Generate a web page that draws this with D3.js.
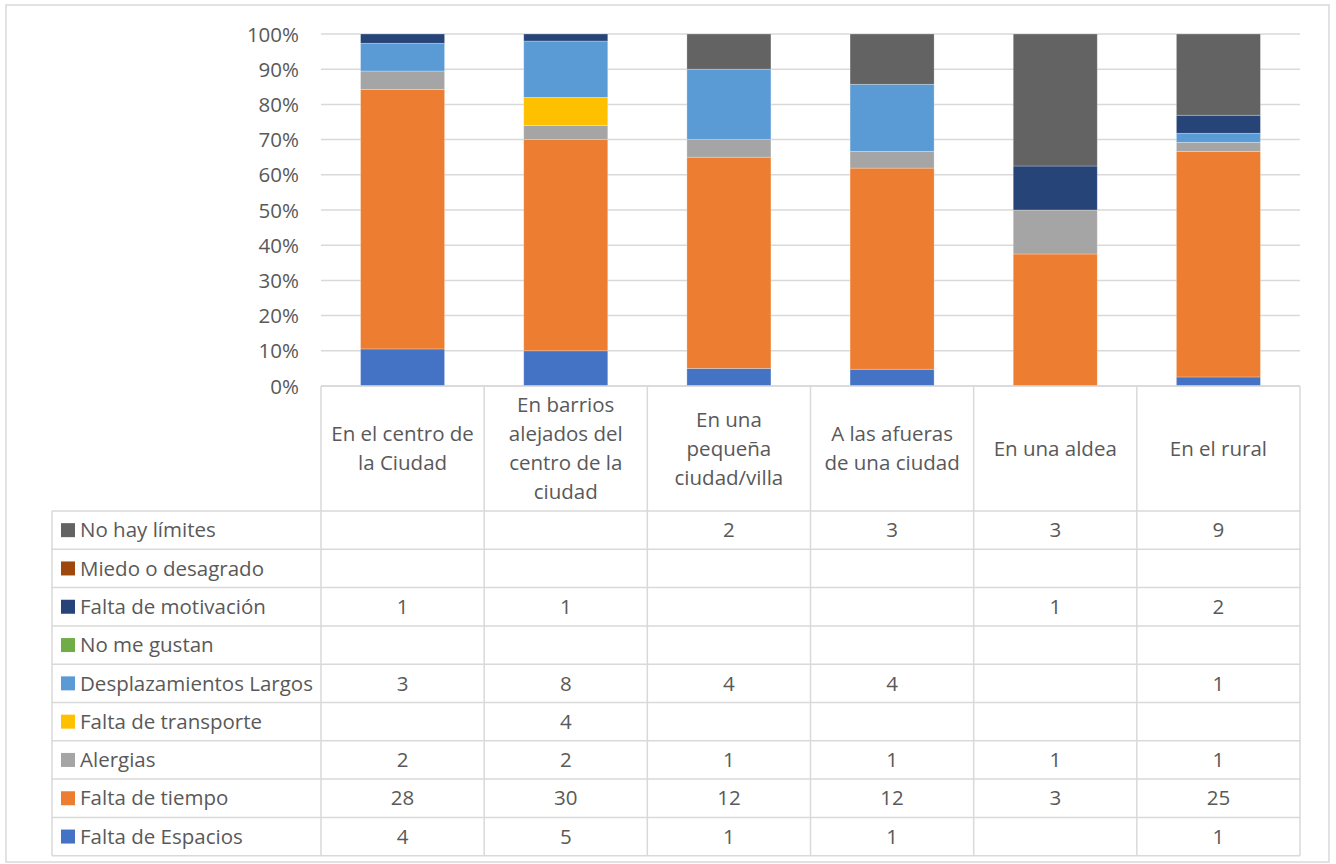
<!DOCTYPE html>
<html><head><meta charset="utf-8">
<script src="https://cdn.jsdelivr.net/npm/d3@7"></script>
<style>body{margin:0;background:#fff}svg text{font-family:"Open Sans",sans-serif;fill:#595959}</style>
</head><body><svg id="c" width="1336" height="864"></svg>
<script>
const categories = ["En el centro de la Ciudad","En barrios alejados del centro de la ciudad","En una pequeña ciudad/villa","A las afueras de una ciudad","En una aldea","En el rural"];
const categoryLines = [["En el centro de","la Ciudad"],["En barrios","alejados del","centro de la","ciudad"],["En una","pequeña","ciudad/villa"],["A las afueras","de una ciudad"],["En una aldea"],["En el rural"]];
const seriesNames = ["Falta de Espacios","Falta de tiempo","Alergias","Falta de transporte","Desplazamientos Largos","No me gustan","Falta de motivación","Miedo o desagrado","No hay límites"];
const faltaEspacios = [4,5,1,1,null,1];
const faltaTiempo = [28,30,12,12,3,25];
const alergias = [2,2,1,1,1,1];
const faltaTransporte = [null,4,null,null,null,null];
const desplazamientos = [3,8,4,4,null,1];
const noMeGustan = [null,null,null,null,null,null];
const faltaMotivacion = [1,1,null,null,1,2];
const miedo = [null,null,null,null,null,null];
const noHayLimites = [null,null,2,3,3,9];
const seriesValues = [faltaEspacios,faltaTiempo,alergias,faltaTransporte,desplazamientos,noMeGustan,faltaMotivacion,miedo,noHayLimites];
const colors = ["#4472C4","#ED7D31","#A5A5A5","#FFC000","#5B9BD5","#70AD47","#264478","#9E480E","#636363"];
const yTicks = [0,0.1,0.2,0.3,0.4,0.5,0.6,0.7,0.8,0.9,1];

const FS = 20.5;
const svg = d3.select("#c");
svg.append("rect").attr("x",6).attr("y",5).attr("width",1323).attr("height",857).attr("fill","#fff").attr("stroke","#d9d9d9").attr("stroke-width",1.5);

const L=321, R=1300, T=34, B=386;
const x = d3.scaleBand().domain(categories).range([L,R]).paddingInner(0.485).paddingOuter(0.2425);
const xc = d3.scaleBand().domain(categories).range([L,R]);
const y = d3.scaleLinear().domain([0,1]).range([B,T]);

svg.append("g").selectAll("line").data(yTicks).join("line")
  .attr("x1",L).attr("x2",R).attr("y1",d=>y(d)).attr("y2",d=>y(d))
  .attr("stroke","#d9d9d9").attr("stroke-width",1.5);

const yAxis = d3.axisLeft(y).tickValues(yTicks).tickFormat(d3.format(".0%")).tickSize(0).tickPadding(0);
const ga = svg.append("g").attr("transform",`translate(${L-22},0)`).call(yAxis);
ga.select(".domain").remove();
ga.selectAll("text").attr("font-size",FS).style("font-family","Open Sans").attr("fill","#595959").attr("dy","0.35em");

const table = categories.map((c,i)=>{const o={cat:c}; seriesNames.forEach((s,j)=>o[s]=seriesValues[j][i]||0); return o;});
const stack = d3.stack().keys(seriesNames).offset(d3.stackOffsetExpand);
const layers = stack(table);
svg.append("g").selectAll("g").data(layers).join("g").attr("fill",(d,i)=>colors[i])
  .selectAll("rect").data(d=>d.filter(p=>p[1]-p[0]>0)).join("rect")
  .attr("x",d=>x(d.data.cat)).attr("width",x.bandwidth())
  .attr("y",d=>y(d[1])).attr("height",d=>y(d[0])-y(d[1]))
  .attr("stroke","rgba(255,255,255,0.35)").attr("stroke-width",0.75);

const rowTop = 511, rowH = 38.3, legL = 52;
const rows = seriesNames.slice().reverse();
const lineC = "#d9d9d9";
const tg = svg.append("g");
const vxs = [L].concat(categories.map(c=>xc(c)+xc.bandwidth()));
tg.selectAll("line.v").data(vxs).join("line").attr("class","v")
  .attr("x1",d=>d).attr("x2",d=>d).attr("y1",B).attr("y2",rowTop+rowH*rows.length)
  .attr("stroke",lineC).attr("stroke-width",1.5);
tg.append("line").attr("x1",legL).attr("x2",legL).attr("y1",rowTop).attr("y2",rowTop+rowH*rows.length).attr("stroke",lineC).attr("stroke-width",1.5);
const hys = d3.range(rows.length+1).map(i=>rowTop+i*rowH);
tg.selectAll("line.h").data(hys).join("line").attr("class","h")
  .attr("x1",legL).attr("x2",R).attr("y1",d=>d).attr("y2",d=>d)
  .attr("stroke",lineC).attr("stroke-width",1.5);
tg.append("line").attr("x1",L).attr("x2",R).attr("y1",B).attr("y2",B).attr("stroke",lineC).attr("stroke-width",1.5);

categoryLines.forEach((lines,i)=>{
  const cx = xc(categories[i])+xc.bandwidth()/2;
  const lh = 29, cy = (B+rowTop)/2;
  const t = tg.append("text").attr("text-anchor","middle").attr("font-size",FS);
  lines.forEach((ln,k)=>{
    t.append("tspan").attr("x",cx).attr("y",cy+(k-(lines.length-1)/2)*lh).attr("dy","0.35em").text(ln);
  });
});

rows.forEach((s,r)=>{
  const j = seriesNames.indexOf(s);
  const cy = rowTop + r*rowH + rowH/2;
  tg.append("rect").attr("x",61).attr("y",cy-7).attr("width",14).attr("height",14).attr("fill",colors[j]);
  tg.append("text").attr("x",80).attr("y",cy).attr("dy","0.35em").attr("font-size",FS).text(s);
  categories.forEach((c,i)=>{
    const v = seriesValues[j][i];
    if(v!=null) tg.append("text").attr("x",xc(c)+xc.bandwidth()/2).attr("y",cy).attr("dy","0.35em")
      .attr("text-anchor","middle").attr("font-size",FS).text(v);
  });
});
</script></body></html>
